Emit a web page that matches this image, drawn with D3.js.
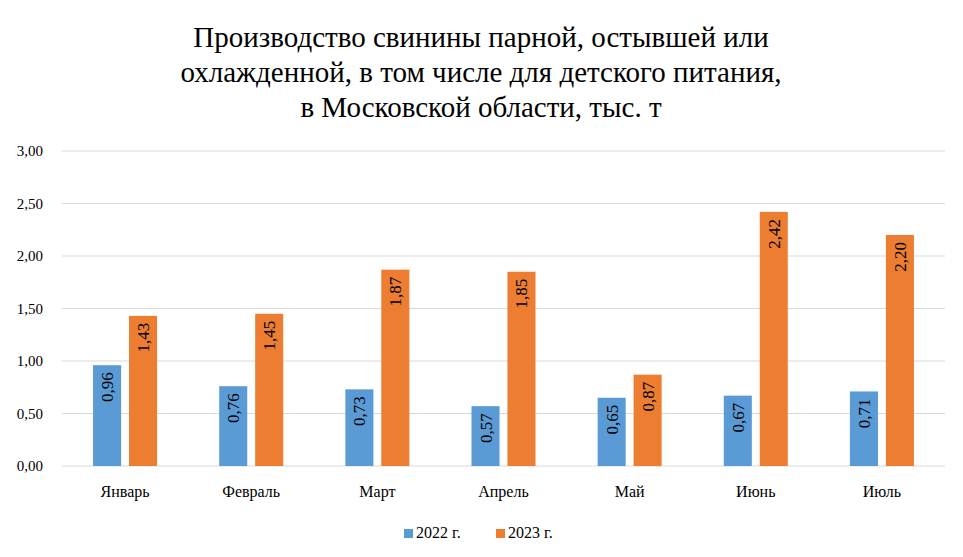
<!DOCTYPE html>
<html><head><meta charset="utf-8">
<script src="https://cdn.jsdelivr.net/npm/d3@7"></script>
<style>body{margin:0;background:#fff}text{font-family:"Liberation Serif","Times New Roman",serif}</style>
</head><body><svg id="c" width="963" height="557"></svg>
<script>
const categories=["Январь","Февраль","Март","Апрель","Май","Июнь","Июль"];
const series2022=[0.96,0.76,0.73,0.57,0.65,0.67,0.71];
const series2023=[1.43,1.45,1.87,1.85,0.87,2.42,2.20];
const seriesNames=["2022 г.","2023 г."];
const colors=["#5b9bd5","#ed7d31"];
const ticks=[0,0.5,1,1.5,2,2.5,3];
const titleLines=["Производство свинины парной, остывшей или","охлажденной, в том числе для детского питания,","в Московской области, тыс. т"];
const fmt=v=>v.toFixed(2).replace(".",",");
const svg=d3.select("#c");
svg.append("rect").attr("width",963).attr("height",557).attr("fill","#fff");
const x=d3.scaleBand().domain(categories).range([62,945]);
const y=d3.scaleLinear().domain([0,3]).range([466,151]);
const x1=d3.scaleBand().domain([0,1]).range([0,64]).paddingInner(0.22);
svg.append("g").selectAll("text").data(titleLines).join("text")
 .attr("x",481).attr("y",(d,i)=>47+i*35).attr("text-anchor","middle").attr("font-size",29).text(d=>d);
svg.append("g").selectAll("line").data(ticks).join("line")
 .attr("x1",62).attr("x2",945).attr("y1",d=>y(d)).attr("y2",d=>y(d)).attr("stroke","#d9d9d9");
svg.append("g").selectAll("text").data(ticks).join("text")
 .attr("x",43).attr("y",d=>y(d)+5).attr("text-anchor","end").attr("font-size",15).text(fmt);
[series2022,series2023].forEach((s,k)=>{
 const g=svg.append("g");
 g.selectAll("rect").data(s).join("rect")
  .attr("x",(d,i)=>x(categories[i])+x.bandwidth()/2-32+x1(k)).attr("width",x1.bandwidth())
  .attr("y",d=>y(d)).attr("height",d=>y(0)-y(d)).attr("fill",colors[k]);
 g.selectAll("text").data(s).join("text")
  .attr("transform",(d,i)=>`translate(${x(categories[i])+x.bandwidth()/2-32+x1(k)+x1.bandwidth()/2+6},${y(d)+7}) rotate(-90)`)
  .attr("text-anchor","end").attr("font-size",17).text(fmt);
});
svg.append("g").selectAll("text").data(categories).join("text")
 .attr("x",d=>x(d)+x.bandwidth()/2).attr("y",497).attr("text-anchor","middle").attr("font-size",16).text(d=>d);
const lg=svg.append("g");
const lx=[404,496];
seriesNames.forEach((n,k)=>{
 lg.append("rect").attr("x",lx[k]).attr("y",529).attr("width",9).attr("height",9).attr("fill",colors[k]);
 lg.append("text").attr("x",lx[k]+12).attr("y",538).attr("font-size",16).text(n);
});
</script></body></html>
